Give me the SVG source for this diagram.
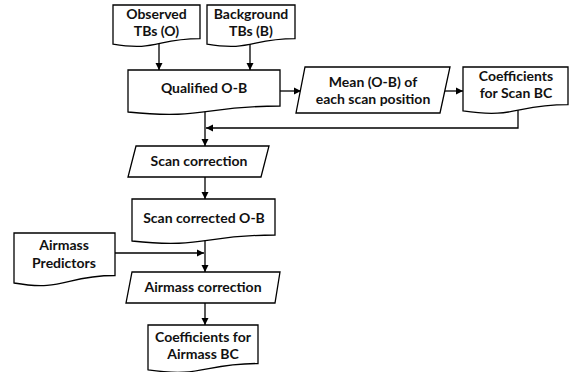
<svg xmlns="http://www.w3.org/2000/svg" width="578" height="372" viewBox="0 0 578 372">
<style>
.s{fill:#fff;stroke:#000;stroke-width:1.3}
.c{fill:none;stroke:#000;stroke-width:1.3}
text{font-family:Lato,"Liberation Sans",sans-serif;font-weight:bold;font-size:14px;fill:#111;text-anchor:middle}
</style>
<defs>
<marker id="a" markerWidth="8" markerHeight="8" refX="7" refY="4" orient="auto" markerUnits="userSpaceOnUse">
<path d="M0,0.5 L7,4 L0,7.5 Z" fill="#000"/>
</marker>
</defs>
<g id="connectors">
<line class="c" x1="159" y1="40" x2="159" y2="70" marker-end="url(#a)"/>
<line class="c" x1="250" y1="40" x2="250" y2="70" marker-end="url(#a)"/>
<line class="c" x1="280" y1="91" x2="301" y2="91" marker-end="url(#a)"/>
<line class="c" x1="444" y1="91" x2="463" y2="91" marker-end="url(#a)"/>
<polyline class="c" points="518,105 518,128 206,128" marker-end="url(#a)"/>
<line class="c" x1="205" y1="105" x2="205" y2="146" marker-end="url(#a)"/>
<line class="c" x1="205" y1="177" x2="205" y2="199" marker-end="url(#a)"/>
<line class="c" x1="115" y1="253" x2="204" y2="253" marker-end="url(#a)"/>
<line class="c" x1="205" y1="235" x2="205" y2="272" marker-end="url(#a)"/>
<line class="c" x1="205" y1="303" x2="205" y2="325" marker-end="url(#a)"/>
</g>
<g id="observed">
<path class="s" d="M113,5 H200 V38.7 C156.5,38.7 156.5,51.5 113,44.2 Z"/>
<text x="156.5" y="19">Observed</text>
<text x="156.5" y="36">TBs (O)</text>
</g>
<g id="background">
<path class="s" d="M207,5 H295 V38.7 C251,38.7 251,51.5 207,44.2 Z"/>
<text x="251" y="19">Background</text>
<text x="251" y="36">TBs (B)</text>
</g>
<g id="qualified">
<path class="s" d="M128,70 H280 V106 C204,106 204,119.8 128,112 Z"/>
<text x="204" y="93">Qualified O-B</text>
</g>
<g id="mean">
<path class="s" d="M305,67 H450 L440,113 H296 Z"/>
<text x="373" y="87">Mean (O-B) of</text>
<text x="373" y="104">each scan position</text>
</g>
<g id="coef-scan">
<path class="s" d="M463,67 H568 V104.7 C515.5,104.7 515.5,119 463,110.9 Z"/>
<text x="516" y="81">Coefficients</text>
<text x="516" y="98">for Scan BC</text>
</g>
<g id="scan-correction">
<path class="s" d="M136,146 H269 L261,177 H128 Z"/>
<text x="199" y="166">Scan correction</text>
</g>
<g id="scan-corrected">
<path class="s" d="M132,199 H275 V235 C203.5,235 203.5,248.8 132,241 Z"/>
<text x="204" y="223">Scan corrected O-B</text>
</g>
<g id="airmass-predictors">
<path class="s" d="M14,233 H115 V275.5 C64.5,275.5 64.5,291.7 14,283 Z"/>
<text x="64" y="250">Airmass</text>
<text x="64" y="268">Predictors</text>
</g>
<g id="airmass-correction">
<path class="s" d="M132,272 H280 L275,303 H126 Z"/>
<text x="203" y="292">Airmass correction</text>
</g>
<g id="coef-airmass">
<path class="s" d="M148,325 H258 V363.5 C203,363.5 203,378 148,369.8 Z"/>
<text x="203" y="342">Coefficients for</text>
<text x="203" y="359">Airmass BC</text>
</g>
</svg>
